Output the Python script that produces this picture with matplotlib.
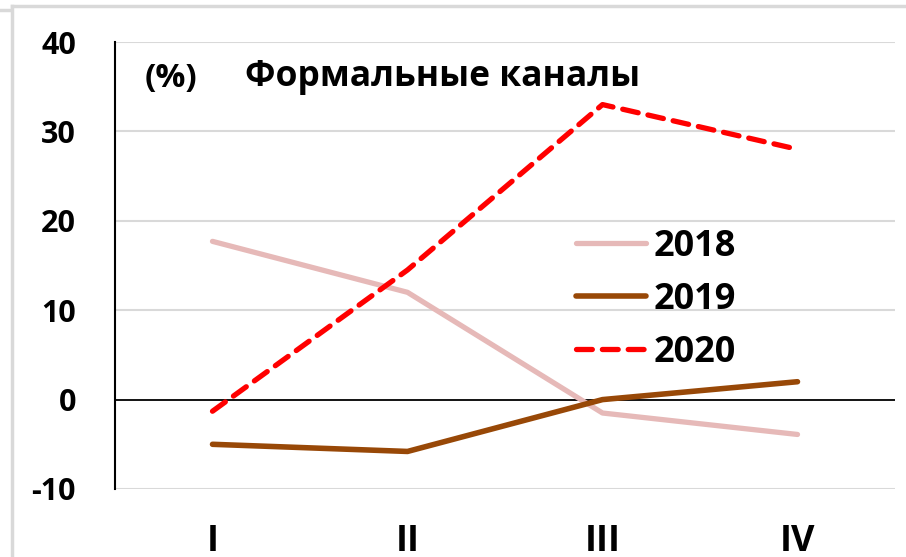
import matplotlib
matplotlib.use("Agg")
import matplotlib.pyplot as plt
from matplotlib.lines import Line2D

# Данные (квартальные значения, %)
quarters = ["I", "II", "III", "IV"]
s2018 = [17.7, 12.0, -1.5, -3.9]
s2019 = [-5.0, -5.8, 0.0, 2.0]
s2020 = [-1.3, 14.5, 33.0, 28.0]
yticks = [-10, 0, 10, 20, 30, 40]

title = "Формальные каналы"
unit = "(%)"

plt.rcParams["font.family"] = ["Open Sans", "DejaVu Sans"]
plt.rcParams["font.weight"] = "bold"
plt.rcParams["axes.unicode_minus"] = False

fig = plt.figure(figsize=(9.06, 5.57), dpi=100)
ax = fig.add_axes([115 / 906, 1 - 489 / 557, 780 / 906, (489 - 42) / 557])

x = list(range(len(quarters)))
ax.plot(x, s2018, color="#E6B9B8", lw=3.8, label="2018", solid_capstyle="round", zorder=3)
ax.plot(x, s2019, color="#984807", lw=4.0, label="2019", solid_capstyle="round", zorder=4)
ax.plot(x, s2020, color="#FF0000", lw=3.8, ls=(0, (3.0, 1.9)), label="2020",
        dash_capstyle="round", zorder=5)

ax.set_xlim(-0.5, 3.5)
ax.set_ylim(-10, 40)
ax.set_yticks(yticks)
ax.set_xticks(x)
ax.set_xticklabels(quarters)

# сетка и оси
for y in yticks:
    if y != 0:
        ax.axhline(y, color="#D9D9D9", lw=1.5, zorder=1)
ax.axhline(0, color="black", lw=1.3, zorder=2)
for s in ["top", "right", "bottom"]:
    ax.spines[s].set_visible(False)
ax.spines["left"].set_color("black")
ax.spines["left"].set_linewidth(1.5)

ax.tick_params(axis="y", length=0, labelsize=22, pad=28)
ax.tick_params(axis="x", length=0, labelsize=26, pad=25)
for lab in ax.get_xticklabels() + ax.get_yticklabels():
    lab.set_fontweight("bold")

fig.text(145 / 906, 1 - 79 / 557, unit, fontsize=24, fontweight="bold", va="center", ha="left")
fig.text(245 / 906, 1 - 77 / 557, title, fontsize=25.5, fontweight="bold", va="center", ha="left")

leg = ax.legend(loc="center left", bbox_to_anchor=(576 / 906, 1 - 300 / 557),
                bbox_transform=fig.transFigure, frameon=False, fontsize=26,
                handlelength=1.95, handletextpad=0.2, labelspacing=0.47,
                borderpad=0, borderaxespad=0)
for t in leg.get_texts():
    t.set_fontweight("bold")

# внешняя рамка
fig.add_artist(Line2D([12 / 906, 1], [1 - 6 / 557, 1 - 6 / 557], color="#D9D9D9", lw=2.5))
fig.add_artist(Line2D([12 / 906, 12 / 906], [0, 1 - 6 / 557], color="#D9D9D9", lw=2.5))
fig.add_artist(Line2D([0, 9 / 906], [1 - 10 / 557, 1 - 10 / 557], color="#D9D9D9", lw=2.5))

fig.savefig("out.png", dpi=100)
